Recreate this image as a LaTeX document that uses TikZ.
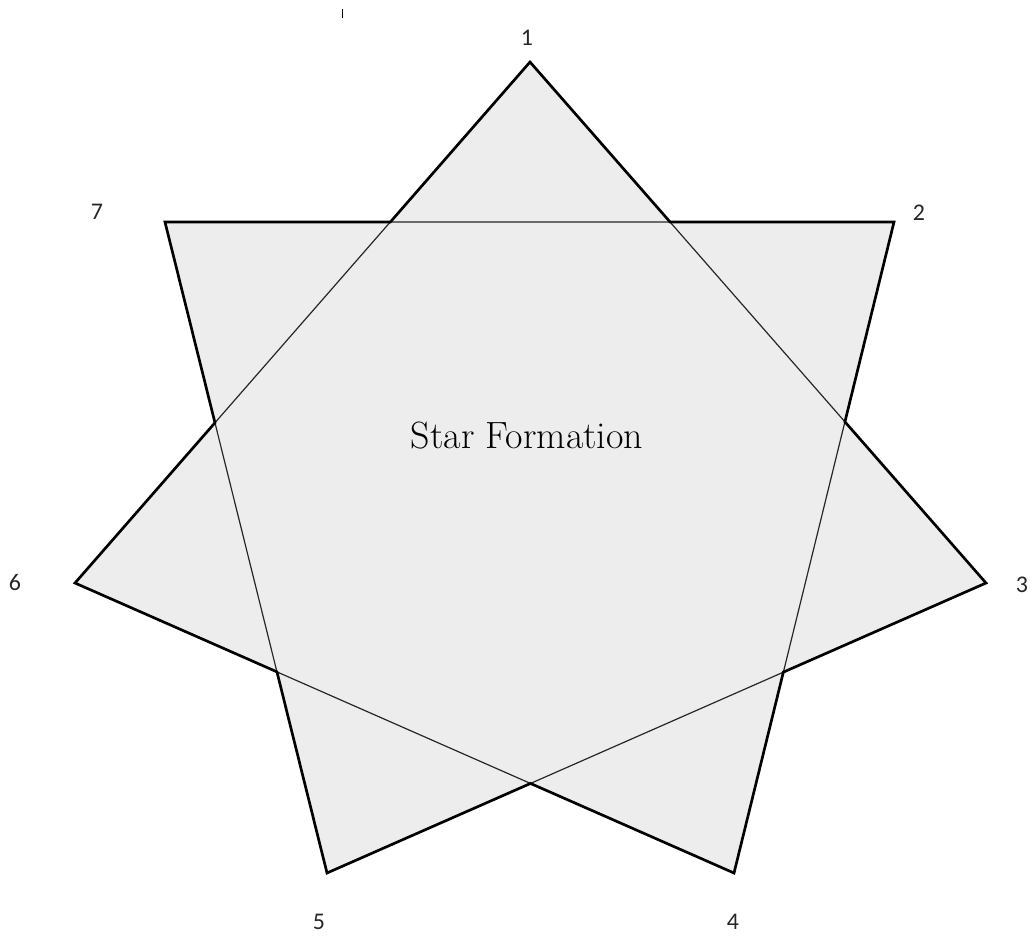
\documentclass[tikz,border=0pt]{standalone}
\usepackage{fontspec}
\newfontfamily\labelfont{Carlito}
\usepackage{xcolor}
\usepackage{tikz}
\definecolor{starfill}{RGB}{237,237,237}

\begin{document}
\begin{tikzpicture}[x=0.025cm, y=-0.025cm,
    outer/.style={draw=black, line width=1.9pt, line join=miter},
    inner/.style={draw=black!85, line width=0.85pt},
    numlabel/.style={font=\labelfont\fontsize{17}{19}\selectfont, text=black!85}]
    \useasboundingbox (0,0) rectangle (1031,935);

    % star points
    \coordinate (v1) at (530,62);
    \coordinate (v2) at (894,222);
    \coordinate (v3) at (986,583);
    \coordinate (v4) at (734,873);
    \coordinate (v5) at (327,873);
    \coordinate (v6) at (75,583);
    \coordinate (v7) at (165,222);

    \fill [starfill] (v1) -- (v3) -- (v5) -- (v7) -- (v2) -- (v4) -- (v6) -- cycle;
    \draw [inner] (v1) -- (v3) -- (v5) -- (v7) -- (v2) -- (v4) -- (v6) -- cycle;
    \draw [outer] (v1) -- (intersection of v1--v3 and v7--v2) -- (v2)
        -- (intersection of v2--v4 and v1--v3) -- (v3)
        -- (intersection of v3--v5 and v2--v4) -- (v4)
        -- (intersection of v4--v6 and v3--v5) -- (v5)
        -- (intersection of v5--v7 and v4--v6) -- (v6)
        -- (intersection of v6--v1 and v5--v7) -- (v7)
        -- (intersection of v7--v2 and v6--v1) -- cycle;

    \node [numlabel] (n1) at (527,38) {1};
    \node [numlabel] (n2) at (919,213) {2};
    \node [numlabel] (n3) at (1022,585) {3};
    \node [numlabel] (n4) at (733,922) {4};
    \node [numlabel] (n5) at (319,922) {5};
    \node [numlabel] (n6) at (15,583) {6};
    \node [numlabel] (n7) at (97,212) {7};

    \node [font=\fontsize{27}{32}\selectfont] (title) at (527,436) {Star Formation};

    \draw [line width=0.6pt] (342,9) -- (342,18);
\end{tikzpicture}
\end{document}
